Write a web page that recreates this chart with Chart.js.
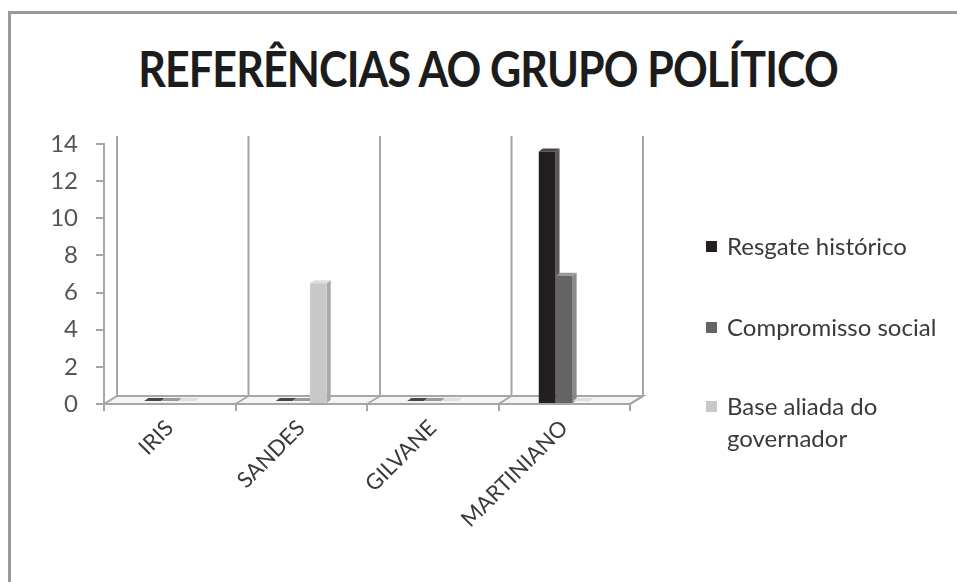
<!DOCTYPE html>
<html>
<head>
<meta charset="utf-8">
<script src="https://cdn.jsdelivr.net/npm/chart.js@4/dist/chart.umd.min.js"></script>
<style>
  html, body { margin: 0; padding: 0; background: #fff; }
  #wrap { position: relative; width: 957px; height: 582px; overflow: hidden; }
  #frame { position: absolute; left: 8px; top: 11px; right: -10px; bottom: -10px;
           border-left: 3px solid #9a9a9a; border-top: 3px solid #9a9a9a; }
  #title { position: absolute; left: 0; width: 976px; top: 38px; text-align: center;
           font-family: Lato, sans-serif; font-weight: bold; font-size: 50px; color: #1c1c1c;
           letter-spacing: -1px; transform: scaleX(0.86); transform-origin: 488px 0; }
  #legend { position: absolute; left: 706px; top: 0; font-family: Lato, sans-serif;
            font-size: 24px; color: #3a3a3a; }
  .li { position: absolute; white-space: nowrap; line-height: 32px; }
  .sw { position: absolute; left: 0; width: 11px; height: 11px; }
  .tx { position: absolute; left: 21px; }
  canvas { position: absolute; left: 0; top: 0; }
</style>
</head>
<body>
<div id="wrap">
  <div id="frame"></div>
  <div id="title">REFERÊNCIAS AO GRUPO POLÍTICO</div>
  <canvas id="c" width="957" height="582"></canvas>
  <div id="legend"></div>
</div>
<script>
const categories = ["IRIS", "SANDES", "GILVANE", "MARTINIANO"];
const seriesNames = ["Resgate histórico", "Compromisso social", "Base aliada do governador"];
const resgateHistorico = [0, 0, 0, 13.6];
const compromissoSocial = [0, 0, 0, 6.9];
const baseAliada = [0, 6.5, 0, 0];
const yTicks = [0, 2, 4, 6, 8, 10, 12, 14];
const seriesColors = ["#231f20", "#646464", "#c8c8c8"];
const sideColors = ["#5a5657", "#8a8a8a", "#a9a9a9"];
const topColors = ["#4a4646", "#9a9a9a", "#dedede"];

const DX = 13, DY = -8;

const wallPlugin = {
  id: 'wall',
  beforeDatasetsDraw(chart) {
    const ctx = chart.ctx, x = chart.scales.x, y = chart.scales.y;
    const L = x.left, R = x.right, B = y.getPixelForValue(0), T = y.getPixelForValue(14);
    ctx.save();
    ctx.strokeStyle = '#a6a6a6';
    ctx.lineWidth = 2;
    for (let i = 0; i <= categories.length; i++) {
      const px = L + (R - L) * i / categories.length + DX;
      ctx.beginPath();
      ctx.moveTo(px, T + DY);
      ctx.lineTo(px, B + DY);
      ctx.stroke();
    }
    ctx.fillStyle = '#f4f4f4';
    ctx.beginPath();
    ctx.moveTo(L, B); ctx.lineTo(L + DX, B + DY); ctx.lineTo(R + DX, B + DY); ctx.lineTo(R, B); ctx.closePath();
    ctx.fill(); ctx.stroke();
    ctx.lineWidth = 1.5;
    for (let i = 1; i < categories.length; i++) {
      const px = L + (R - L) * i / categories.length;
      ctx.beginPath(); ctx.moveTo(px, B); ctx.lineTo(px + DX, B + DY); ctx.stroke();
    }
    chart.data.datasets.forEach((ds, di) => {
      const meta = chart.getDatasetMeta(di);
      meta.data.forEach((bar, i) => {
        const v = ds.data[i];
        const hw = bar.width / 2;
        const dx = 4, dy = -3;
        if (!v) {
          ctx.fillStyle = topColors[di];
          ctx.beginPath();
          ctx.moveTo(bar.x - hw, B - 3); ctx.lineTo(bar.x - hw + dx, B - 3 + dy);
          ctx.lineTo(bar.x + hw + dx, B - 3 + dy); ctx.lineTo(bar.x + hw, B - 3); ctx.closePath();
          ctx.fill();
          return;
        }
        ctx.fillStyle = sideColors[di];
        ctx.beginPath();
        ctx.moveTo(bar.x + hw, bar.y); ctx.lineTo(bar.x + hw + dx, bar.y + dy);
        ctx.lineTo(bar.x + hw + dx, bar.base + dy); ctx.lineTo(bar.x + hw, bar.base); ctx.closePath();
        ctx.fill();
        ctx.fillStyle = topColors[di];
        ctx.beginPath();
        ctx.moveTo(bar.x - hw, bar.y); ctx.lineTo(bar.x - hw + dx, bar.y + dy);
        ctx.lineTo(bar.x + hw + dx, bar.y + dy); ctx.lineTo(bar.x + hw, bar.y); ctx.closePath();
        ctx.fill();
      });
    });
    ctx.restore();
  },
  afterDatasetsDraw(chart) {
    const ctx = chart.ctx, x = chart.scales.x, y = chart.scales.y;
    const L = x.left, R = x.right, B = y.getPixelForValue(0);
    ctx.save();
    ctx.strokeStyle = '#a6a6a6';
    ctx.lineWidth = 2;
    ctx.beginPath(); ctx.moveTo(L, B); ctx.lineTo(R, B); ctx.lineTo(R + DX, B + DY); ctx.stroke();
    ctx.restore();
  }
};

const ctx = document.getElementById('c').getContext('2d');
new Chart(ctx, {
  type: 'bar',
  data: {
    labels: categories,
    datasets: [
      { label: seriesNames[0], data: resgateHistorico, backgroundColor: seriesColors[0] },
      { label: seriesNames[1], data: compromissoSocial, backgroundColor: seriesColors[1] },
      { label: seriesNames[2], data: baseAliada, backgroundColor: seriesColors[2] }
    ]
  },
  plugins: [wallPlugin],
  options: {
    responsive: false,
    animation: false,
    events: [],
    categoryPercentage: 0.39,
    barPercentage: 0.98,
    layout: { padding: { top: 144, right: 327, bottom: 0, left: 0 } },
    plugins: { legend: { display: false }, title: { display: false }, tooltip: { enabled: false } },
    scales: {
      x: {
        grid: { display: true, offset: true, drawOnChartArea: false, drawTicks: true, tickLength: 7, color: '#a6a6a6', lineWidth: 2 },
        border: { display: false },
        ticks: { color: '#3a3a3a', font: { family: 'Lato', size: 22 }, maxRotation: 45, minRotation: 45, padding: 4 },
        afterFit(s) { s.height = 178; }
      },
      y: {
        min: 0, max: 14,
        afterBuildTicks(s) { s.ticks = yTicks.map(v => ({ value: v })); },
        grid: { display: true, drawOnChartArea: false, tickLength: 8, color: '#a6a6a6', lineWidth: 2 },
        border: { display: true, color: '#a6a6a6', width: 2 },
        ticks: { color: '#555', font: { family: 'Lato', size: 24 }, padding: 18 },
        afterFit(s) { s.width = 104; }
      }
    }
  }
});

const lg = document.getElementById('legend');
const legendY = [247, 328, 407];
const legendLines = [["Resgate histórico"], ["Compromisso social"], ["Base aliada do", "governador"]];
seriesNames.forEach((n, i) => {
  const d = document.createElement('div');
  d.className = 'li';
  d.style.top = (legendY[i] - 17) + 'px';
  d.innerHTML = '<div class="sw" style="top:11px;background:' + seriesColors[i] + '"></div>' +
    '<div class="tx">' + legendLines[i].join('<br>') + '</div>';
  lg.appendChild(d);
});
</script>
</body>
</html>
